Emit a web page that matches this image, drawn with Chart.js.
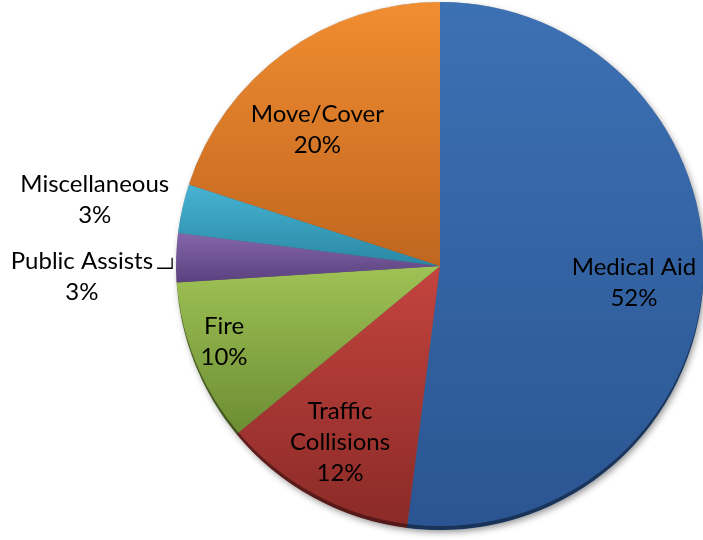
<!DOCTYPE html>
<html>
<head>
<meta charset="utf-8">
<script src="https://cdn.jsdelivr.net/npm/chart.js@4/dist/chart.umd.min.js"></script>
<style>
  html, body { margin: 0; padding: 0; background: #fff; overflow: hidden; }
  #wrap { position: absolute; left: 0; top: 0; width: 720px; height: 540px; }
</style>
</head>
<body>
<div id="wrap"><canvas id="callChart"></canvas></div>
<script>
  // call types, clockwise from 12 o'clock
  var categories = ['Medical Aid', 'Traffic Collisions', 'Fire', 'Public Assists', 'Miscellaneous', 'Move/Cover'];
  var shares = [52, 12, 10, 3, 3, 20];
  // label text lines shown on the chart
  var labelLines = [['Medical Aid'], ['Traffic', 'Collisions'], ['Fire'], ['Public Assists'], ['Miscellaneous'], ['Move/Cover']];

  // light (top) / dark (bottom) fill colours for each slice
  var topColors = ['#3c71b4', '#c4443f', '#9fc255', '#8566ab', '#48b3d3', '#f18d31'];
  var bottomColors = ['#2b5592', '#8a2a27', '#6c8c33', '#5a417e', '#2a88a4', '#c0661f'];

  // where each label sits: fraction of radius along the slice middle, plus nudge
  var labelPlace = [
    { k: 0.736, dx: 0, dy: 5 },
    { k: 0.77, dx: -2, dy: -2 },
    { k: 0.88, dx: 0, dy: -10 },
    { k: 1.357, dx: 0, dy: 22 },
    { k: 1.34, dx: 0, dy: 11 },
    { k: 0.70, dx: -14, dy: 13 }
  ];

  var FONT = '24px Lato, "Open Sans", sans-serif';
  var LINE_H = 31;

  // vertical extent of a slice, used for the per-slice gradient
  function arcYRange(cx, cy, r, a0, a1) {
    var ys = [cy, cy + r * Math.sin(a0), cy + r * Math.sin(a1)];
    var marks = [-Math.PI / 2, Math.PI / 2, 3 * Math.PI / 2];
    marks.forEach(function (m) {
      if (m > a0 && m < a1) ys.push(cy + r * Math.sin(m));
    });
    return [Math.min.apply(null, ys), Math.max.apply(null, ys)];
  }

  function sliceFill(context) {
    var chart = context.chart;
    var area = chart.chartArea;
    var i = context.dataIndex;
    if (!area) return topColors[i];
    var cx = (area.left + area.right) / 2;
    var cy = (area.top + area.bottom) / 2;
    var r = Math.min(area.right - area.left, area.bottom - area.top) / 2;
    var total = shares.reduce(function (a, b) { return a + b; }, 0);
    var before = 0;
    for (var j = 0; j < i; j++) before += shares[j];
    var a0 = -Math.PI / 2 + before / total * Math.PI * 2;
    var a1 = a0 + shares[i] / total * Math.PI * 2;
    var yr = arcYRange(cx, cy, r, a0, a1);
    var g = chart.ctx.createLinearGradient(0, yr[0], 0, yr[1]);
    g.addColorStop(0, topColors[i]);
    g.addColorStop(1, bottomColors[i]);
    return g;
  }

  var shadowPlugin = {
    id: 'pieShadow',
    beforeDatasetsDraw: function (chart) {
      var arc = chart.getDatasetMeta(0).data[0];
      if (!arc) return;
      var ctx = chart.ctx;
      ctx.save();
      ctx.shadowColor = 'rgba(0,0,0,0.45)';
      ctx.shadowBlur = 7;
      ctx.shadowOffsetX = 2;
      ctx.shadowOffsetY = 3;
      ctx.fillStyle = '#555';
      ctx.beginPath();
      ctx.arc(arc.x, arc.y, arc.outerRadius - 1, 0, Math.PI * 2);
      ctx.fill();
      ctx.restore();
    },
    afterDatasetsDraw: function (chart) {
      var meta = chart.getDatasetMeta(0);
      var arc = meta.data[0];
      if (!arc) return;
      var ctx = chart.ctx;
      var r = arc.outerRadius;
      // dark bevel along the bottom rim
      ctx.save();
      ctx.beginPath();
      ctx.arc(arc.x, arc.y, r, 0, Math.PI * 2);
      ctx.clip();
      ctx.beginPath();
      ctx.arc(arc.x, arc.y, r, 0, Math.PI * 2);
      ctx.arc(arc.x, arc.y - 4, r, 0, Math.PI * 2);
      ctx.fillStyle = 'rgba(0,0,0,0.4)';
      ctx.fill('evenodd');
      ctx.restore();

      // labels
      ctx.save();
      ctx.font = FONT;
      ctx.fillStyle = '#000';
      ctx.textAlign = 'center';
      ctx.textBaseline = 'middle';
      meta.data.forEach(function (el, i) {
        var mid = (el.startAngle + el.endAngle) / 2;
        var p = labelPlace[i];
        var lx = el.x + Math.cos(mid) * el.outerRadius * p.k + p.dx;
        var ly = el.y + Math.sin(mid) * el.outerRadius * p.k + p.dy;
        var lines = labelLines[i].concat([shares[i] + '%']);
        var y0 = ly - (lines.length - 1) * LINE_H / 2;
        lines.forEach(function (t, n) {
          ctx.fillText(t, lx, y0 + n * LINE_H);
        });
        // leader line for the small slice whose label sits beside it
        if (categories[i] === 'Public Assists') {
          var w = ctx.measureText(lines[0]).width;
          var ex = el.x + Math.cos(mid) * el.outerRadius;
          var ey = el.y + Math.sin(mid) * el.outerRadius;
          ctx.beginPath();
          ctx.strokeStyle = '#000';
          ctx.lineWidth = 1.3;
          ctx.moveTo(lx + w / 2 + 4, y0 + 7);
          ctx.lineTo(ex - 4, y0 + 7);
          ctx.lineTo(ex - 4, ey);
          ctx.stroke();
        }
      });
      ctx.restore();
    }
  };

  var ctx = document.getElementById('callChart').getContext('2d');
  var callChart = new Chart(ctx, {
    type: 'pie',
    data: {
      labels: categories,
      datasets: [{
        data: shares,
        backgroundColor: sliceFill,
        borderWidth: 0,
        hoverOffset: 0
      }]
    },
    options: {
      responsive: true,
      maintainAspectRatio: false,
      animation: false,
      layout: { padding: { left: 176, right: 16, top: 2, bottom: 10 } },
      plugins: {
        legend: { display: false },
        tooltip: { enabled: false }
      }
    },
    plugins: [shadowPlugin]
  });
</script>
</body>
</html>
